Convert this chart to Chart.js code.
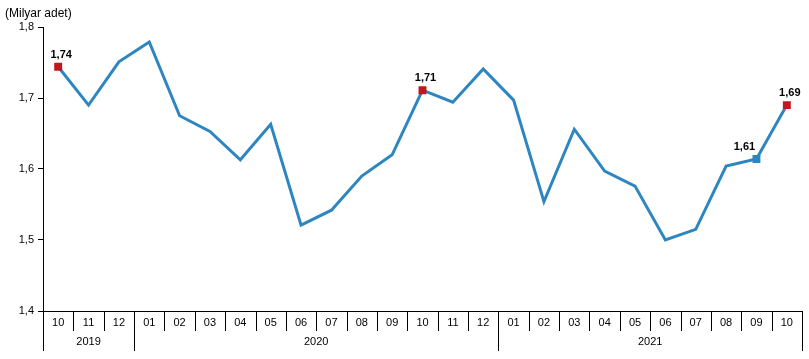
<!DOCTYPE html>
<html>
<head>
<meta charset="utf-8">
<script src="https://cdn.jsdelivr.net/npm/chart.js@4.4.0/dist/chart.umd.min.js"></script>
<style>
  html, body { margin: 0; padding: 0; background: #fff; }
  #wrap { width: 809px; height: 359px; position: relative; }
</style>
</head>
<body>
<div id="wrap"><canvas id="chart"></canvas></div>
<script>
// months shown on the first axis row
const months = ['10','11','12','01','02','03','04','05','06','07','08','09','10','11','12',
                '01','02','03','04','05','06','07','08','09','10'];
// year groups on the second row and how many months each covers
const years = ['2019', '2020', '2021'];
const yearSpans = [3, 12, 10];
// milyar adet
const values = [1.744, 1.690, 1.751, 1.779, 1.675, 1.653, 1.613, 1.663, 1.521, 1.542, 1.590, 1.620,
                1.711, 1.694, 1.741, 1.697, 1.554, 1.656, 1.597, 1.576, 1.500, 1.515, 1.604, 1.614, 1.690];
const yTicks = [1.4, 1.5, 1.6, 1.7, 1.8];
const labelled = [0, 12, 23, 24];

const LINE = '#2e86c1';
const RED = '#c0161c';
const FONT = '"Liberation Sans", Arial, sans-serif';

const markColor = values.map((v, i) => i === 23 ? LINE : RED);
const markRadius = values.map((v, i) => labelled.includes(i) ? 5.6 : 0);

const fmt = v => v.toFixed(2).replace('.', ',');

const extras = {
  id: 'extras',
  afterDraw(chart) {
    const ctx = chart.ctx;
    const x = chart.scales.x, y = chart.scales.y;
    const area = chart.chartArea;
    const n = months.length;
    const step = (area.right - area.left) / n;
    ctx.save();
    ctx.fillStyle = '#000';
    ctx.strokeStyle = '#000';
    ctx.lineWidth = 1;

    // unit title
    ctx.font = '12px ' + FONT;
    ctx.textAlign = 'left';
    ctx.textBaseline = 'alphabetic';
    ctx.fillText('(Milyar adet)', 5, 17);

    // month row
    ctx.font = '11px ' + FONT;
    ctx.textAlign = 'center';
    ctx.textBaseline = 'middle';
    const rowY = area.bottom + 12;
    months.forEach((m, i) => {
      ctx.fillText(m, x.getPixelForValue(i), rowY);
    });
    for (let i = 0; i <= n; i++) {
      const px = Math.round(area.left + i * step) + 0.5;
      ctx.beginPath();
      ctx.moveTo(px, area.bottom);
      ctx.lineTo(px, area.bottom + 20);
      ctx.stroke();
    }

    // year row
    let start = 0;
    years.forEach((yr, k) => {
      const end = start + yearSpans[k];
      const x0 = area.left + start * step;
      const x1 = area.left + end * step;
      ctx.fillText(yr, (x0 + x1) / 2, area.bottom + 31);
      [x0, x1].forEach(px => {
        const p = Math.round(px) + 0.5;
        ctx.beginPath();
        ctx.moveTo(p, area.bottom);
        ctx.lineTo(p, area.bottom + 40);
        ctx.stroke();
      });
      start = end;
    });

    // value labels
    ctx.font = 'bold 11px ' + FONT;
    ctx.textBaseline = 'alphabetic';
    labelled.forEach(i => {
      const px = x.getPixelForValue(i);
      const py = y.getPixelForValue(values[i]);
      ctx.textAlign = 'center';
      ctx.fillText(fmt(values[i]), i === 23 ? px - 12 : px + 3, py - 9);
    });
    ctx.restore();
  }
};

new Chart(document.getElementById('chart'), {
  type: 'line',
  data: {
    labels: months,
    datasets: [{
      data: values,
      borderColor: LINE,
      borderWidth: 3,
      tension: 0,
      pointStyle: 'rect',
      pointRadius: markRadius,
      pointHoverRadius: markRadius,
      pointBackgroundColor: markColor,
      pointBorderColor: markColor,
      pointBorderWidth: 0
    }]
  },
  options: {
    responsive: true,
    maintainAspectRatio: false,
    animation: false,
    layout: { padding: { top: 27, right: 7, left: 0, bottom: 0 } },
    plugins: { legend: { display: false }, tooltip: { enabled: false } },
    scales: {
      x: {
        offset: true,
        grid: { display: false },
        ticks: { display: false },
        border: { display: true, color: '#000', width: 1 },
        afterFit: s => { s.height = 48; }
      },
      y: {
        min: 1.4,
        max: 1.8,
        afterBuildTicks: s => { s.ticks = yTicks.map(v => ({ value: v })); },
        ticks: {
          color: '#000',
          font: { family: FONT, size: 11 },
          padding: 4,
          callback: v => String(Math.round(v * 10) / 10).replace('.', ',')
        },
        grid: { drawOnChartArea: false, drawTicks: true, tickLength: 5, color: '#000' },
        border: { display: true, color: '#000', width: 1 },
        afterFit: s => { s.width = 43; }
      }
    }
  },
  plugins: [extras]
});
</script>
</body>
</html>
